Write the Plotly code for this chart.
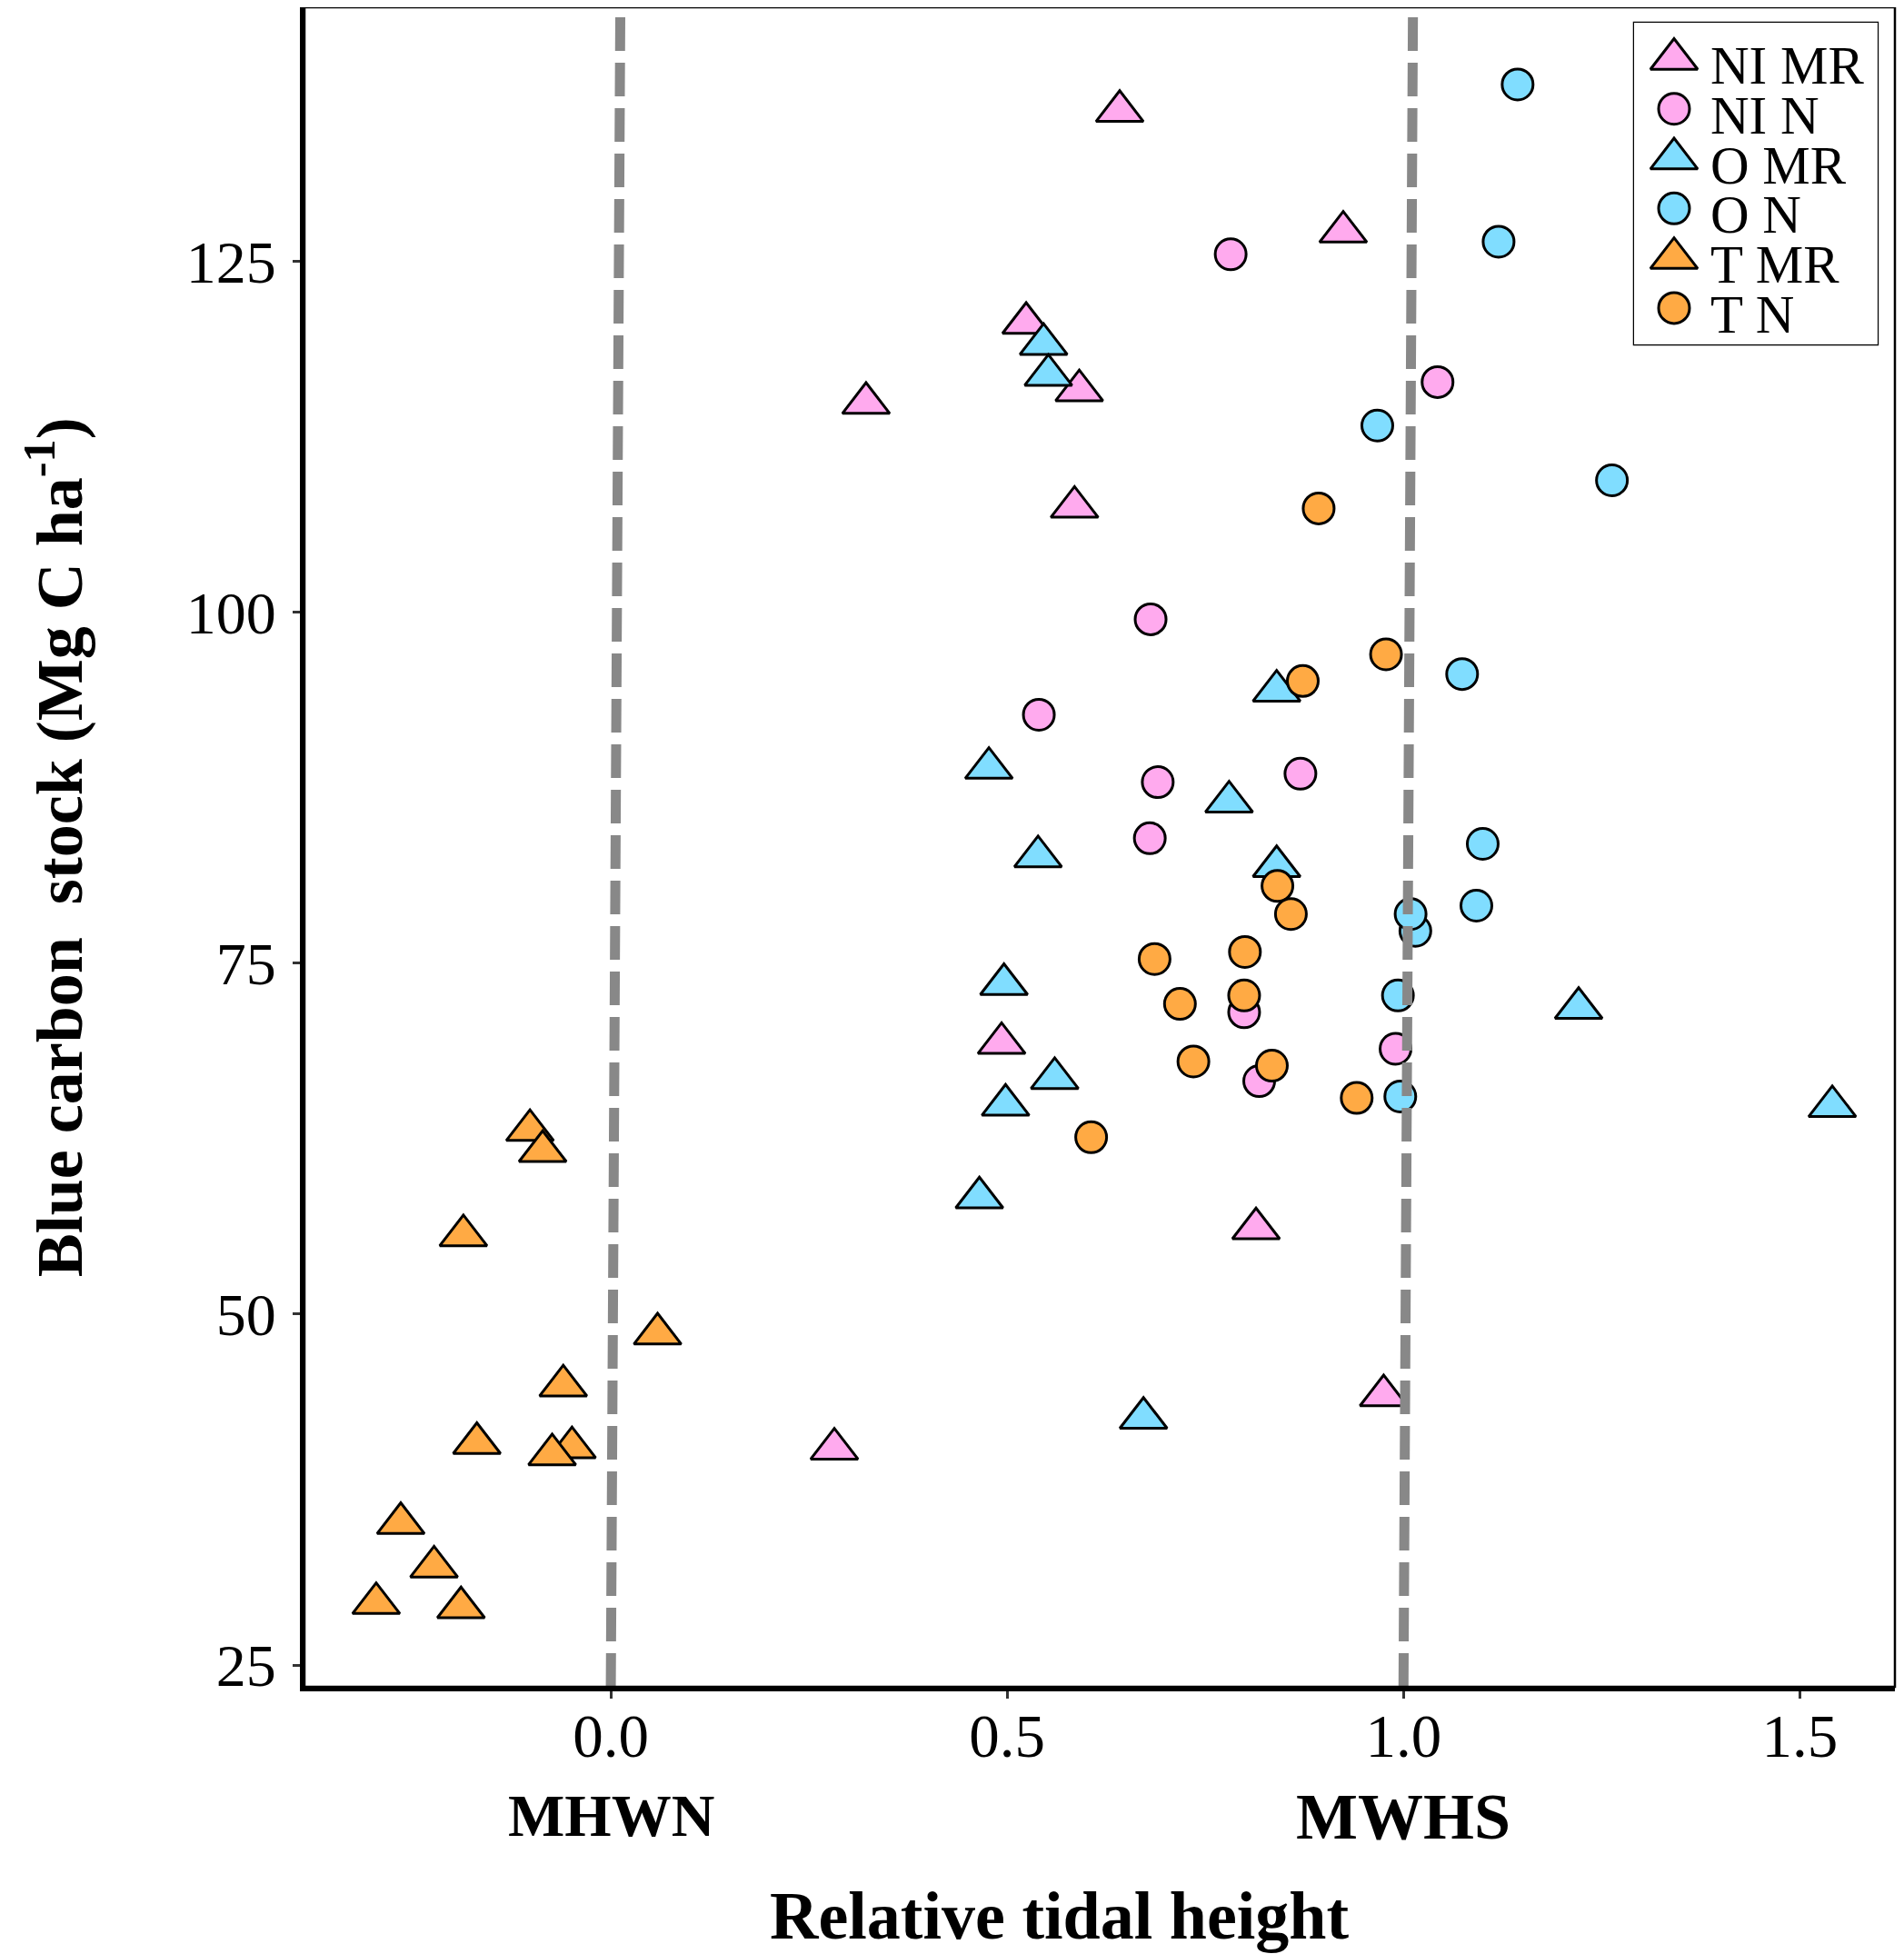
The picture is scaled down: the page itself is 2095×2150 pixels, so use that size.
import plotly.graph_objects as go

# relative tidal height (x) and blue carbon stock (y) per group
groups = ["NI MR", "NI N", "O MR", "O N", "T MR", "T N"]

ni_mr_x = [0.642, 0.924, 0.524, 0.322, 0.591, 0.585, 0.493, 0.814, 0.975, 0.282]
ni_mr_y = [135.7, 127.1, 120.6, 114.9, 115.8, 107.5, 69.3, 56.1, 44.2, 40.4]

ni_n_x = [0.782, 1.043, 0.681, 0.540, 0.690, 0.870, 0.680, 0.799, 0.990, 0.818]
ni_n_y = [125.5, 116.4, 99.5, 92.7, 87.9, 88.5, 83.9, 71.5, 68.9, 66.6]

o_mr_x = [0.546, 0.552, 0.840, 0.477, 0.780, 0.539, 0.840, 0.496, 1.221, 0.560, 0.498, 1.541, 0.465, 0.672]
o_mr_y = [119.1, 116.9, 94.4, 88.9, 86.5, 82.6, 81.9, 73.5, 71.8, 66.8, 64.9, 64.8, 58.3, 42.6]

o_n_x = [1.144, 1.120, 0.967, 1.263, 1.074, 1.100, 1.092, 1.015, 1.009, 0.993, 0.996]
o_n_y = [137.6, 126.4, 113.3, 109.4, 95.6, 83.5, 79.1, 77.3, 78.5, 72.7, 65.5]

t_mr_x = [-0.102, -0.086, -0.186, 0.059, -0.060, -0.169, -0.049, -0.074, -0.265, -0.223, -0.296, -0.189]
t_mr_y = [63.1, 61.6, 55.6, 48.6, 44.9, 40.8, 40.5, 40.0, 35.1, 32.0, 29.4, 29.1]

t_n_x = [0.893, 0.978, 0.873, 0.841, 0.858, 0.686, 0.800, 0.799, 0.718, 0.735, 0.834, 0.941, 0.606]
t_n_y = [107.4, 97.0, 95.1, 80.5, 78.5, 75.3, 75.8, 72.7, 72.1, 68.0, 67.7, 65.4, 62.6]

xs = [ni_mr_x, ni_n_x, o_mr_x, o_n_x, t_mr_x, t_n_x]
ys = [ni_mr_y, ni_n_y, o_mr_y, o_n_y, t_mr_y, t_n_y]

pink = "#FFAAEE"
blue = "#80DDFF"
orange = "#FFAA44"
colors = [pink, pink, blue, blue, orange, orange]
symbols = ["triangle-up", "circle"] * 3
sizes = {"triangle-up": 45, "circle": 34}

serif = "Liberation Serif"

fig = go.Figure()

for name, x, y, c, s in zip(groups, xs, ys, colors, symbols):
    fig.add_trace(go.Scatter(
        x=x, y=y, mode="markers", name=name, showlegend=False,
        marker=dict(symbol=s, size=sizes[s], color=c,
                    line=dict(color="black", width=3))))

# hand-made legend (plotly caps legend marker size), laid out in pixels of the box
row_y = [64 + 54.8 * i for i in range(len(groups))]
for name, c, s, ry in zip(groups, colors, symbols, row_y):
    fig.add_trace(go.Scatter(
        x=[1842], y=[ry], mode="markers", showlegend=False, hoverinfo="skip",
        xaxis="x2", yaxis="y2",
        marker=dict(symbol=s, size=sizes[s], color=c,
                    line=dict(color="black", width=3))))
    fig.add_annotation(x=1880, y=ry + 7, xref="x2", yref="y2", text=name,
                       showarrow=False, xanchor="left", yanchor="middle",
                       font=dict(family=serif, size=59, color="black"))

x_min, x_max = -0.3865, 1.620
y_min, y_max = 23.45, 143.1

axis_common = dict(showline=True, linewidth=5, linecolor="black",
                   ticks="outside", ticklen=8, tickwidth=3, tickcolor="#333333",
                   showgrid=False, zeroline=False)

fig.update_layout(
    width=2095, height=2150,
    margin=dict(l=327, r=18, t=0, b=302),
    plot_bgcolor="white", paper_bgcolor="white",
    xaxis=dict(range=[x_min, x_max], tickvals=[0, 0.5, 1.0, 1.5],
               ticktext=["0.0", "0.5", "1.0", "1.5"], ticklabelstandoff=-16,
               tickfont=dict(family=serif, size=67, color="black"),
               **axis_common),
    yaxis=dict(range=[y_min, y_max], tickvals=[25, 50, 75, 100, 125],
               ticklabelstandoff=5,
               tickfont=dict(family=serif, size=66, color="black"),
               **axis_common),
    xaxis2=dict(domain=[0.836, 0.9891], range=[1798, 2066], visible=False,
                anchor="y2", fixedrange=True),
    yaxis2=dict(domain=[0.7993, 0.9908], range=[378, 24], visible=False,
                anchor="x2", fixedrange=True),
)

# MHWN / MWHS reference lines (slightly slanted in the original)
for xb in [0.0, 1.0]:
    fig.add_shape(type="line", xref="x", yref="y", x0=xb, y0=y_min,
                  x1=xb + 0.012, y1=y_max, layer="above",
                  line=dict(color="#888888", width=11, dash="37px,13px"))

# thin frame around panel and legend box
fig.add_shape(type="rect", xref="paper", yref="paper", x0=0, y0=0, x1=1, y1=1,
              line=dict(color="black", width=2.5), layer="above")
fig.add_shape(type="rect", xref="paper", yref="paper", x0=0.836, y0=0.7993,
              x1=0.9891, y1=0.9908, line=dict(color="black", width=2.5),
              layer="below")

fig.add_annotation(x=0.0, y=-0.0763, xref="x", yref="paper", text="<b>MHWN</b>",
                   showarrow=False, xanchor="center", yanchor="middle",
                   font=dict(family=serif, size=66, color="black"))
fig.add_annotation(x=1.0, y=-0.0775, xref="x", yref="paper", text="<b>MWHS</b>",
                   showarrow=False, xanchor="center", yanchor="middle",
                   font=dict(family=serif, size=72, color="black"))
fig.add_annotation(x=0.4749, y=-0.1363, xref="paper", yref="paper",
                   text="<b>Relative tidal height</b>", showarrow=False,
                   xanchor="center", yanchor="middle",
                   font=dict(family=serif, size=74, color="black"))
fig.add_annotation(x=-0.157, y=0.5, xref="paper", yref="paper", textangle=-90,
                   text="<b>Blue carbon  stock (Mg C ha<sup>-1</sup>)</b>",
                   showarrow=False, xanchor="center", yanchor="middle",
                   font=dict(family=serif, size=72, color="black"))

fig.write_html("out.html")
